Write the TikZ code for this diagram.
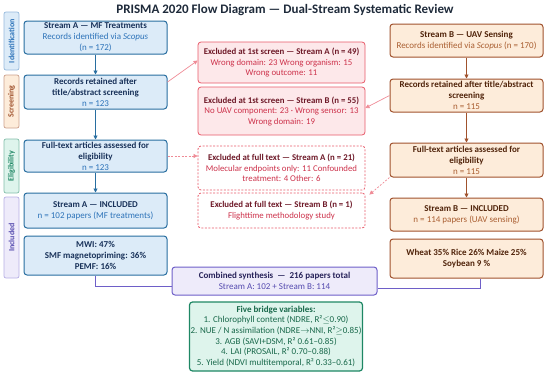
\documentclass[tikz,border=0pt]{standalone}
\usepackage{fontspec}
\setmainfont{Carlito}
\usepackage{xcolor}
\usepackage{tikz}
\usetikzlibrary{arrows.meta,positioning,calc}
\definecolor{streamA}{RGB}{40,110,160}
\definecolor{streamAfill}{RGB}{220,235,248}
\definecolor{streamAhead}{RGB}{25,50,90}
\definecolor{streamAtext}{RGB}{45,115,185}
\definecolor{streamB}{RGB}{160,82,45}
\definecolor{streamBfill}{RGB}{253,236,218}
\definecolor{streamBhead}{RGB}{80,35,10}
\definecolor{streamBtext}{RGB}{170,95,50}
\definecolor{excl}{RGB}{232,90,105}
\definecolor{exclfill}{RGB}{253,232,234}
\definecolor{exclhead}{RGB}{110,25,40}
\definecolor{excltext}{RGB}{205,50,75}
\definecolor{synth}{RGB}{110,95,200}
\definecolor{synthfill}{RGB}{238,235,250}
\definecolor{synthhead}{RGB}{40,35,90}
\definecolor{synthtext}{RGB}{85,75,175}
\definecolor{bridge}{RGB}{30,135,100}
\definecolor{bridgefill}{RGB}{222,244,236}
\definecolor{bridgetext}{RGB}{25,105,75}
\definecolor{titlec}{RGB}{30,42,58}

\begin{document}
\begin{tikzpicture}[
    x=1pt, y=-1pt,
    box/.style={draw, rounded corners=3pt, align=center, line width=1pt,
                inner sep=1pt, font=\fontsize{9}{11}\selectfont},
    abox/.style={box, draw=streamA, fill=streamAfill, text=streamAtext,
                 minimum width=143pt},
    bbox/.style={box, draw=streamB, fill=streamBfill, text=streamBtext,
                 minimum width=153pt},
    xbox/.style={box, draw=excl, fill=exclfill, text=excltext,
                 minimum width=167pt, line width=0.8pt,
                 font=\fontsize{8.8}{10.5}\selectfont},
    xdash/.style={xbox, fill=white, dash pattern=on 2pt off 1.5pt},
    phase/.style={draw, rounded corners=2pt, rotate=90, line width=0.7pt,
                  minimum height=15pt, inner sep=0pt,
                  font=\bfseries\fontsize{8}{9}\selectfont},
    arrA/.style={-{Triangle[length=4pt,width=4pt]}, streamA, line width=0.9pt},
    arrB/.style={-{Triangle[length=4pt,width=4pt]}, streamB, line width=0.9pt},
    arrX/.style={-{Triangle[length=4pt,width=4pt]}, excl!70, line width=0.7pt},
    link/.style={synth, line width=0.9pt}
  ]
  \useasboundingbox (0,0) rectangle (550,376);

  % Title
  \node[font=\bfseries\fontsize{13}{15}\selectfont, text=titlec] (title) at (285,10)
    {PRISMA 2020 Flow Diagram — Dual-Stream Systematic Review};

  % Phases
  \node[phase, draw=streamAtext!50, fill=streamAfill, text=streamAtext,
        minimum width=58pt] (pid) at (11.5,41) {Identification};
  \node[phase, draw=streamB!55, fill=streamBfill, text=streamB,
        minimum width=53pt] (pscr) at (11.5,101.5) {Screening};
  \node[phase, draw=bridge!55, fill=bridgefill, text=bridge,
        minimum width=54pt] (pelig) at (11.5,166) {Eligibility};
  \node[phase, draw=synth!50, fill=synthfill, text=synthtext,
        minimum width=81pt] (pincl) at (11.5,237.5) {Included};

  % Stream A
  \node[abox, minimum height=33pt] (A1) at (95.5,37.5)
    {\textcolor{streamAhead}{\textbf{Stream A — MF Treatments}}\\
     Records identified via \textit{Scopus}\\ (n = 172)};
  \node[abox, minimum height=34pt] (A2) at (95.5,92)
    {\textcolor{streamAhead}{\textbf{Records retained after}}\\
     \textcolor{streamAhead}{\textbf{title/abstract screening}}\\ n = 123};
  \node[abox, minimum height=32pt] (A3) at (95.5,156)
    {\textcolor{streamAhead}{\textbf{Full-text articles assessed for}}\\
     \textcolor{streamAhead}{\textbf{eligibility}}\\ n = 123};
  \node[abox, minimum height=35pt] (A4) at (95.5,210.5)
    {\textcolor{streamAhead}{\textbf{Stream A — INCLUDED}}\\
     n = 102 papers (MF treatments)};
  \node[abox, minimum height=39pt, text=streamAhead, font=\bfseries\fontsize{9}{11}\selectfont] (A5) at (95.5,255.5)
    {MWI: 47\%\\ SMF magnetopriming: 36\%\\ PEMF: 16\%};

  % Stream B
  \node[bbox, minimum height=33pt] (B1) at (466.5,40.5)
    {\textcolor{streamBhead}{\textbf{Stream B — UAV Sensing}}\\
     Records identified via \textit{Scopus} (n = 170)};
  \node[bbox, minimum height=33pt] (B2) at (466.5,95.5)
    {\textcolor{streamBhead}{\textbf{Records retained after title/abstract}}\\
     \textcolor{streamBhead}{\textbf{screening}}\\ n = 115};
  \node[bbox, minimum height=34pt] (B3) at (466.5,160)
    {\textcolor{streamBhead}{\textbf{Full-text articles assessed for}}\\
     \textcolor{streamBhead}{\textbf{eligibility}}\\ n = 115};
  \node[bbox, minimum height=33pt] (B4) at (466.5,214.5)
    {\textcolor{streamBhead}{\textbf{Stream B — INCLUDED}}\\
     n = 114 papers (UAV sensing)};
  \node[bbox, minimum height=39pt, text=streamBhead, font=\bfseries\fontsize{9}{11}\selectfont] (B5) at (466.5,258.5)
    {Wheat 35\% Rice 26\% Maize 25\%\\ Soybean 9 \%};

  % Exclusions
  \node[xbox, minimum height=41pt] (E1) at (281.5,62.5)
    {\textcolor{exclhead}{\textbf{Excluded at 1st screen — Stream A (n = 49)}}\\
     Wrong domain: 23 Wrong organism: 15\\ Wrong outcome: 11};
  \node[xbox, minimum height=48pt] (E2) at (281.5,111)
    {\textcolor{exclhead}{\textbf{Excluded at 1st screen — Stream B (n = 55)}}\\
     No UAV component: 23 · Wrong sensor: 13\\ Wrong domain: 19};
  \node[xdash, minimum height=44pt] (E3) at (281.5,168)
    {\textcolor{exclhead}{\textbf{Excluded at full text — Stream A (n = 21)}}\\
     Molecular endpoints only: 11 Confounded\\ treatment: 4 Other: 6};
  \node[xdash, minimum height=35pt] (E4) at (281.5,210.5)
    {\textcolor{exclhead}{\textbf{Excluded at full text — Stream B (n = 1)}}\\
     Flighttime methodology study};

  % Synthesis
  \node[box, draw=synth, fill=synthfill, text=synthtext, minimum width=205pt,
        minimum height=28pt] (C) at (274.5,281)
    {\textcolor{synthhead}{\textbf{Combined synthesis \ — \ 216 papers total}}\\
     Stream A: 102 + Stream B: 114};
  \node[box, draw=bridge, fill=bridgefill, text=bridgetext, minimum width=172pt,
        minimum height=69pt, line width=1.2pt, font=\fontsize{9}{10.7}\selectfont] (V) at (276,336.5)
    {\textbf{Five bridge variables:}\\
     1. Chlorophyll content (NDRE, R²$\leq$0.90)\\
     2. NUE / N assimilation (NDRE$\rightarrow$NNI, R²$\geq$0.85)\\
     3. AGB (SAVI+DSM, R² 0.61–0.85)\\
     4. LAI (PROSAIL, R² 0.70–0.88)\\
     5. Yield (NDVI multitemporal, R² 0.33–0.61)};

  \draw[arrA] (A1) -- (A2);
  \draw[arrA] (A2) -- (A3);
  \draw[arrA] (A3) -- (A4);
  \draw[arrB] (B1) -- (B2);
  \draw[arrB] (B2) -- (B3);
  \draw[arrB] (B3) -- (B4);
  \draw[arrX] ($(A2.east)+(0,-10)$) -- ($(E1.west)+(0,-2)$);
  \draw[arrX] (B2.west) -- ($(E2.east)+(0,-3)$);
  \draw[arrX, dash pattern=on 2pt off 1.5pt] (A3.east) -- (A3.east -| E3.west);
  \draw[arrX, dash pattern=on 2pt off 1.5pt] (B3.south west) -- ($(E4.north east)+(4,2)$);
  \draw[link] (A5.south) |- ($(C.west)+(0,5)$);
  \draw[link] ($(B5.south)+(14,0)$) |- ($(C.east)+(0,7)$);
\end{tikzpicture}
\end{document}
